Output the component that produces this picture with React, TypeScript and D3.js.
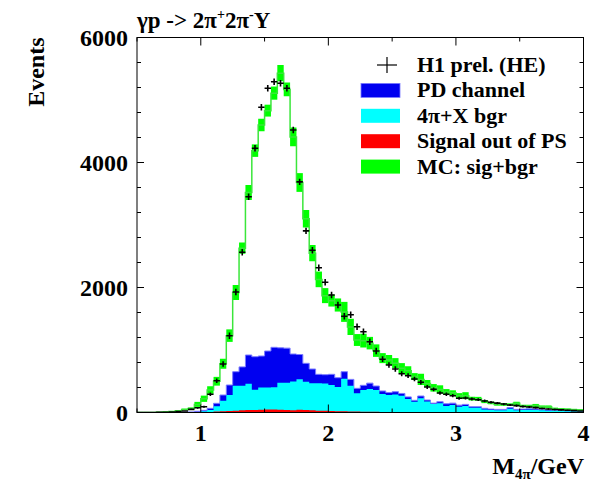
import React from "react";
import * as d3 from "d3";

// 4-pion invariant mass histogram, 0.05 GeV bins from 0.5 to 4.0 GeV
const binStart = 0.5;
const binWidth = 0.05;

const dataEvents = [
  0, 0, 1, 2, 4, 8, 14, 25, 50, 75,
  93, 291, 509, 776, 1229, 1928, 2563, 3453, 4227, 4883,
  5187, 5293, 5267, 5187, 4520, 3690, 2906, 2597, 2317, 2083,
  1880, 1720, 1539, 1565, 1373, 1293, 1133, 984, 853, 760,
  696, 621, 589, 536, 483, 408, 371, 312, 291, 269,
  227, 232, 215, 205, 185, 165, 150, 135, 120, 110,
  95, 88, 78, 65, 55, 48, 42, 36, 30, 25,
];

const mcCentral = [
  0, 0, 2, 5, 10, 15, 30, 50, 65, 130,
  220, 360, 500, 780, 1230, 1920, 2630, 3520, 4190, 4600,
  4830, 5110, 5430, 5170, 4410, 3680, 3100, 2550, 2130, 1870,
  1790, 1720, 1610, 1370, 1160, 1150, 1110, 990, 870, 840,
  790, 710, 670, 575, 530, 465, 395, 370, 330, 315,
  270, 270, 222, 220, 175, 152, 130, 128, 126, 147,
  104, 104, 112, 93, 93, 60, 55, 50, 45, 40,
];

const mcError = [
  3, 3, 4, 5, 6, 8, 10, 12, 15, 40,
  50, 60, 70, 80, 100, 120, 90, 120, 100, 100,
  95, 105, 130, 110, 150, 150, 140, 130, 125, 120,
  95, 105, 160, 130, 95, 110, 100, 100, 80, 80,
  80, 80, 70, 55, 90, 55, 60, 65, 45, 40,
  40, 55, 30, 30, 25, 20, 20, 20, 20, 25,
  20, 20, 25, 20, 20, 18, 16, 15, 14, 12,
];

const pdChannel = [
  0, 0, 0, 0, 0, 2, 4, 6, 10, 20,
  35, 67, 147, 280, 440, 653, 730, 920, 893, 904,
  984, 1043, 1035, 1030, 936, 928, 787, 696, 611, 605,
  611, 557, 653, 530, 387, 435, 470, 424, 345, 320,
  333, 305, 250, 195, 264, 200, 150, 173, 140, 150,
  118, 130, 93, 93, 67, 55, 50, 50, 80, 50,
  55, 60, 55, 45, 40, 35, 30, 28, 25, 20,
];

const bgr4pi = [
  0, 0, 0, 0, 0, 1, 2, 4, 6, 10,
  20, 40, 100, 189, 280, 427, 427, 462, 365, 400,
  400, 405, 477, 477, 495, 531, 493, 470, 470, 465,
  440, 410, 540, 430, 307, 360, 375, 360, 296, 280,
  290, 269, 216, 173, 230, 175, 136, 150, 104, 120,
  93, 105, 75, 75, 50, 42, 38, 38, 60, 38,
  42, 45, 42, 35, 30, 27, 24, 22, 20, 16,
];

const sigOutPS = [
  0, 0, 0, 0, 0, 0, 0, 1, 2, 3,
  5, 8, 15, 20, 25, 30, 35, 40, 42, 45,
  50, 48, 45, 40, 38, 45, 40, 35, 30, 28,
  25, 22, 20, 18, 15, 14, 12, 12, 10, 10,
  8, 8, 7, 6, 6, 5, 5, 4, 4, 4,
  3, 3, 3, 3, 2, 2, 2, 2, 2, 2,
  2, 1, 1, 1, 1, 1, 1, 1, 1, 1,
];

const yMajorTicks = [0, 2000, 4000, 6000];
const yMinorStep = 400;
const xMajorTicks = [1, 2, 3, 4];
const xMinorTicks = [0.5, 1.5, 2.5, 3.5];

const legendLabels = ["H1 prel. (HE)", "PD channel", "4\u03c0+X bgr", "Signal out of PS", "MC: sig+bgr"];
const PI = "\u03c0";

const FONT = "'Liberation Serif', 'Times New Roman', Times, serif";
const BLUE = "#0000f0";
const BLUE_EDGE = "#7a7aff";
const CYAN = "#00ffff";
const RED = "#ff0000";
const GREEN = "#00ff00";
const GREEN_LINE = "#3ae63a";

const W = 599;
const H = 484;
const plot = { left: 137, right: 583.5, top: 37.5, bottom: 412.5 };

const x = d3.scaleLinear().domain([0.5, 4]).range([plot.left, plot.right]);
const y = d3.scaleLinear().domain([0, 6000]).range([plot.bottom, plot.top]);

type Pt = [number, number];

function stepPoints(vals: number[]): Pt[] {
  const pts: Pt[] = [];
  vals.forEach((v, i) => {
    const a = binStart + i * binWidth;
    pts.push([a, v], [a + binWidth, v]);
  });
  return pts;
}

const areaGen = d3
  .area<Pt>()
  .x((d) => x(d[0]))
  .y0(y(0))
  .y1((d) => y(d[1]));

const lineGen = d3
  .line<Pt>()
  .x((d) => x(d[0]))
  .y((d) => y(d[1]));

function FilledHist({ vals, fill, edge }: { vals: number[]; fill: string; edge?: string }) {
  const pts = stepPoints(vals);
  return (
    <g>
      <path d={areaGen(pts) || ""} fill={fill} stroke="none" />
      {edge && <path d={lineGen(pts) || ""} fill="none" stroke={edge} strokeWidth={1} />}
    </g>
  );
}

export default function App() {
  const yMinor = d3.range(0, 6000 + 1, yMinorStep).filter((v) => !yMajorTicks.includes(v));

  return (
    <svg
      width={W}
      height={H}
      viewBox={`0 0 ${W} ${H}`}
      style={{ position: "absolute", left: 0, top: 0, background: "#fff" }}
      fontFamily={FONT}
      fontWeight="bold"
    >
      <rect x={0} y={0} width={W} height={H} fill="#fff" />

      <defs>
        <clipPath id="plotArea">
          <rect x={plot.left} y={plot.top} width={plot.right - plot.left} height={plot.bottom - plot.top} />
        </clipPath>
      </defs>

      <g clipPath="url(#plotArea)">
        {/* PD channel, 4pi background and out-of-phase-space signal */}
        <FilledHist vals={pdChannel} fill={BLUE} edge={BLUE_EDGE} />
        <FilledHist vals={bgr4pi} fill={CYAN} />
        <FilledHist vals={sigOutPS} fill={RED} />

        {/* MC sum: uncertainty band plus central step line */}
        {mcCentral.map((v, i) => {
          const a = binStart + i * binWidth;
          const top = y(v + mcError[i]);
          const bot = y(Math.max(0, v - mcError[i]));
          return (
            <rect
              key={`band${i}`}
              x={x(a)}
              y={top}
              width={x(a + binWidth) - x(a)}
              height={Math.max(1, bot - top)}
              fill={GREEN}
            />
          );
        })}
        <path d={lineGen(stepPoints(mcCentral)) || ""} fill="none" stroke={GREEN_LINE} strokeWidth={1.5} />

        {/* Data points */}
        {dataEvents.map((v, i) => {
          const a = binStart + i * binWidth;
          const cy = y(v);
          const half = Math.min(3.2, Math.sqrt(v) * 0.1);
          return (
            <g key={`d${i}`} stroke="#000" strokeWidth={1.6}>
              <line x1={x(a)} x2={x(a + binWidth)} y1={cy} y2={cy} />
              {half > 0.6 && <line x1={x(a + binWidth / 2)} x2={x(a + binWidth / 2)} y1={cy - half} y2={cy + half} />}
            </g>
          );
        })}
      </g>

      {/* Frame */}
      <rect
        x={plot.left}
        y={plot.top}
        width={plot.right - plot.left}
        height={plot.bottom - plot.top}
        fill="none"
        stroke="#000"
        strokeWidth={1}
      />

      {/* Y ticks, left and right */}
      {yMajorTicks.map((t) => (
        <g key={`ym${t}`} stroke="#000" strokeWidth={1}>
          <line x1={plot.left} x2={plot.left + 7} y1={y(t)} y2={y(t)} />
          <line x1={plot.right} x2={plot.right - 7} y1={y(t)} y2={y(t)} />
        </g>
      ))}
      {yMinor.map((t) => (
        <g key={`yn${t}`} stroke="#000" strokeWidth={1}>
          <line x1={plot.left} x2={plot.left + 4} y1={y(t)} y2={y(t)} />
          <line x1={plot.right} x2={plot.right - 4} y1={y(t)} y2={y(t)} />
        </g>
      ))}
      {yMajorTicks.map((t) => (
        <text key={`yl${t}`} x={128} y={y(t)} dy="0.35em" textAnchor="end" fontSize={24}>
          {t}
        </text>
      ))}

      {/* X ticks, bottom and top */}
      {xMajorTicks.map((t) => (
        <g key={`xm${t}`} stroke="#000" strokeWidth={1}>
          <line x1={x(t)} x2={x(t)} y1={plot.bottom} y2={plot.bottom - 8} />
          <line x1={x(t)} x2={x(t)} y1={plot.top} y2={plot.top + 8} />
        </g>
      ))}
      {xMinorTicks.map((t) => (
        <g key={`xn${t}`} stroke="#000" strokeWidth={1}>
          <line x1={x(t)} x2={x(t)} y1={plot.bottom} y2={plot.bottom - 4} />
          <line x1={x(t)} x2={x(t)} y1={plot.top} y2={plot.top + 4} />
        </g>
      ))}
      {xMajorTicks.map((t) => (
        <text key={`xl${t}`} x={x(t)} y={441} textAnchor="middle" fontSize={24}>
          {t}
        </text>
      ))}

      {/* Axis titles */}
      <text transform={`translate(44,${plot.top}) rotate(-90)`} textAnchor="end" fontSize={24}>
        Events
      </text>
      <text x={584} y={474} textAnchor="end" fontSize={24}>
        M<tspan fontSize={15} dy={5}>{`4${PI}`}</tspan>
        <tspan dy={-5}>/GeV</tspan>
      </text>

      {/* Title */}
      <text x={137} y={28} fontSize={23}>
        {`\u03b3p -> 2${PI}`}
        <tspan fontSize={14} dy={-9}>+</tspan>
        <tspan dy={9}>{`2${PI}`}</tspan>
        <tspan fontSize={14} dy={-9}>-</tspan>
        <tspan dy={9}>Y</tspan>
      </text>

      {/* Legend */}
      <g>
        {legendLabels.map((label, i) => {
          const cy = 65 + i * 25.4;
          return (
            <g key={label}>
              {i === 0 ? (
                <g stroke="#000" strokeWidth={1.2}>
                  <line x1={377} x2={397} y1={cy} y2={cy} />
                  <line x1={387} x2={387} y1={cy - 8} y2={cy + 8} />
                </g>
              ) : (
                <rect
                  x={361}
                  y={cy - 7}
                  width={39}
                  height={14}
                  fill={[BLUE, CYAN, RED, GREEN][i - 1]}
                  stroke={i === 1 ? BLUE_EDGE : "none"}
                  strokeWidth={0.8}
                />
              )}
              <text x={417} y={cy + 7} fontSize={22}>
                {label}
              </text>
            </g>
          );
        })}
      </g>
    </svg>
  );
}
